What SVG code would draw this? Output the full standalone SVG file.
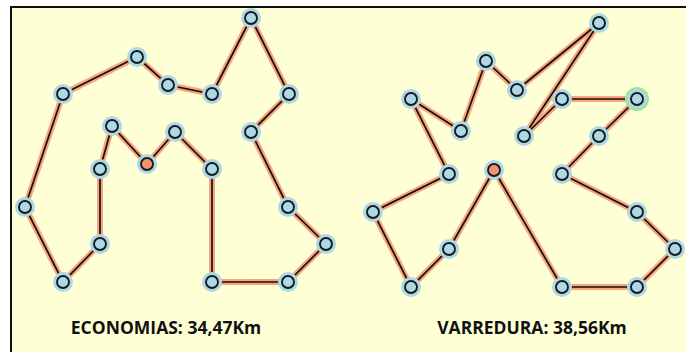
<svg xmlns="http://www.w3.org/2000/svg" width="686" height="352" viewBox="0 0 686 352">
<defs>
<style>
.glow{stroke:#F8946E;stroke-width:6;stroke-linecap:round;fill:none;opacity:0.85}
.line{stroke:#111;stroke-width:1.7;stroke-linecap:round;fill:none}
.halo{fill:#ADD8E6}
.halo-g{fill:#98E898}
.core{fill:#ADD8E6;stroke:#1a1a1a;stroke-width:1.9}
.core-d{fill:#F79070;stroke:#1a1a1a;stroke-width:1.9}
.lbl{font-family:"Open Sans","DejaVu Sans",sans-serif;font-weight:700;font-size:17.5px;fill:#111;text-anchor:middle}
</style>
</defs>
<rect x="0" y="0" width="686" height="352" fill="#FFFFFF"/>
<rect x="12" y="8" width="680" height="350" fill="#FFFFD6"/>
<line x1="11" y1="7" x2="11" y2="352" stroke="#111" stroke-width="2"/>
<line x1="10" y1="7" x2="686" y2="7" stroke="#111" stroke-width="2"/>
<g id="connectors">
<g id="glows" class="glow">
<polyline points="147,164 112,126 100,169 100,244 63,282 25,207 63,94 137,57 168,85 212,94 251,18 289,94 251,132 288,207 326,244 288,282 212,282 212,169 175,132 147,164"/>
<polyline points="494,170 449,249 411,287 373,212 449,174 411,99 461,131 486,61 517,90 599,23 524,136 562,99 637,99 599,136 562,174 637,212 675,249 637,287 562,287 494,170"/>
</g>
<g id="lines" class="line">
<polyline points="147,164 112,126 100,169 100,244 63,282 25,207 63,94 137,57 168,85 212,94 251,18 289,94 251,132 288,207 326,244 288,282 212,282 212,169 175,132 147,164"/>
<polyline points="494,170 449,249 411,287 373,212 449,174 411,99 461,131 486,61 517,90 599,23 524,136 562,99 637,99 599,136 562,174 637,212 675,249 637,287 562,287 494,170"/>
</g>
</g>
<g id="n1"><circle class="halo" cx="251" cy="18" r="10"/><circle class="core" cx="251" cy="18" r="6"/></g>
<g id="n2"><circle class="halo" cx="137" cy="57" r="10"/><circle class="core" cx="137" cy="57" r="6"/></g>
<g id="n3"><circle class="halo" cx="168" cy="85" r="10"/><circle class="core" cx="168" cy="85" r="6"/></g>
<g id="n4"><circle class="halo" cx="212" cy="94" r="10"/><circle class="core" cx="212" cy="94" r="6"/></g>
<g id="n5"><circle class="halo" cx="63" cy="94" r="10"/><circle class="core" cx="63" cy="94" r="6"/></g>
<g id="n6"><circle class="halo" cx="289" cy="94" r="10"/><circle class="core" cx="289" cy="94" r="6"/></g>
<g id="n7"><circle class="halo" cx="112" cy="126" r="10"/><circle class="core" cx="112" cy="126" r="6"/></g>
<g id="n8"><circle class="halo" cx="175" cy="132" r="10"/><circle class="core" cx="175" cy="132" r="6"/></g>
<g id="n9"><circle class="halo" cx="251" cy="132" r="10"/><circle class="core" cx="251" cy="132" r="6"/></g>
<g id="n10"><circle class="halo" cx="147" cy="164" r="10"/><circle class="core-d" cx="147" cy="164" r="6"/></g>
<g id="n11"><circle class="halo" cx="100" cy="169" r="10"/><circle class="core" cx="100" cy="169" r="6"/></g>
<g id="n12"><circle class="halo" cx="212" cy="169" r="10"/><circle class="core" cx="212" cy="169" r="6"/></g>
<g id="n13"><circle class="halo" cx="25" cy="207" r="10"/><circle class="core" cx="25" cy="207" r="6"/></g>
<g id="n14"><circle class="halo" cx="288" cy="207" r="10"/><circle class="core" cx="288" cy="207" r="6"/></g>
<g id="n15"><circle class="halo" cx="100" cy="244" r="10"/><circle class="core" cx="100" cy="244" r="6"/></g>
<g id="n16"><circle class="halo" cx="326" cy="244" r="10"/><circle class="core" cx="326" cy="244" r="6"/></g>
<g id="n17"><circle class="halo" cx="63" cy="282" r="10"/><circle class="core" cx="63" cy="282" r="6"/></g>
<g id="n18"><circle class="halo" cx="212" cy="282" r="10"/><circle class="core" cx="212" cy="282" r="6"/></g>
<g id="n19"><circle class="halo" cx="288" cy="282" r="10"/><circle class="core" cx="288" cy="282" r="6"/></g>
<g id="m1"><circle class="halo" cx="599" cy="23" r="10"/><circle class="core" cx="599" cy="23" r="6"/></g>
<g id="m2"><circle class="halo" cx="486" cy="61" r="10"/><circle class="core" cx="486" cy="61" r="6"/></g>
<g id="m3"><circle class="halo" cx="517" cy="90" r="10"/><circle class="core" cx="517" cy="90" r="6"/></g>
<g id="m4"><circle class="halo" cx="411" cy="99" r="10"/><circle class="core" cx="411" cy="99" r="6"/></g>
<g id="m5"><circle class="halo" cx="562" cy="99" r="10"/><circle class="core" cx="562" cy="99" r="6"/></g>
<g id="m6"><circle class="halo-g" cx="637" cy="99" r="12"/><circle class="halo" cx="637" cy="99" r="10"/><circle class="core" cx="637" cy="99" r="6"/></g>
<g id="m7"><circle class="halo" cx="461" cy="131" r="10"/><circle class="core" cx="461" cy="131" r="6"/></g>
<g id="m8"><circle class="halo" cx="524" cy="136" r="10"/><circle class="core" cx="524" cy="136" r="6"/></g>
<g id="m9"><circle class="halo" cx="599" cy="136" r="10"/><circle class="core" cx="599" cy="136" r="6"/></g>
<g id="m10"><circle class="halo" cx="449" cy="174" r="10"/><circle class="core" cx="449" cy="174" r="6"/></g>
<g id="m11"><circle class="halo" cx="494" cy="170" r="10"/><circle class="core-d" cx="494" cy="170" r="6"/></g>
<g id="m12"><circle class="halo" cx="562" cy="174" r="10"/><circle class="core" cx="562" cy="174" r="6"/></g>
<g id="m13"><circle class="halo" cx="373" cy="212" r="10"/><circle class="core" cx="373" cy="212" r="6"/></g>
<g id="m14"><circle class="halo" cx="637" cy="212" r="10"/><circle class="core" cx="637" cy="212" r="6"/></g>
<g id="m15"><circle class="halo" cx="449" cy="249" r="10"/><circle class="core" cx="449" cy="249" r="6"/></g>
<g id="m16"><circle class="halo" cx="675" cy="249" r="10"/><circle class="core" cx="675" cy="249" r="6"/></g>
<g id="m17"><circle class="halo" cx="411" cy="287" r="10"/><circle class="core" cx="411" cy="287" r="6"/></g>
<g id="m18"><circle class="halo" cx="562" cy="287" r="10"/><circle class="core" cx="562" cy="287" r="6"/></g>
<g id="m19"><circle class="halo" cx="637" cy="287" r="10"/><circle class="core" cx="637" cy="287" r="6"/></g>
<text class="lbl" x="166" y="334">ECONOMIAS: 34,47Km</text>
<text class="lbl" x="532" y="334">VARREDURA: 38,56Km</text>
</svg>
